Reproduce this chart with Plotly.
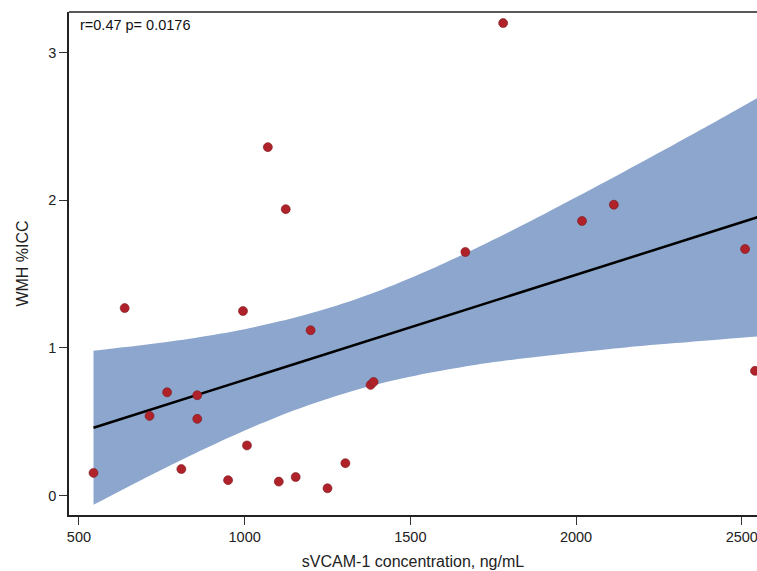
import plotly.graph_objects as go

# Scatter data (sVCAM-1 concentration vs WMH %ICC)
svcam = [544, 638, 713, 766, 809, 857, 857, 950, 995, 1007, 1070, 1103, 1124,
         1154, 1199, 1250, 1304, 1380, 1389, 1666, 1780, 2018, 2114, 2510, 2540]
wmh = [0.154, 1.27, 0.54, 0.70, 0.18, 0.68, 0.52, 0.105, 1.25, 0.34, 2.36, 0.095,
       1.94, 0.126, 1.12, 0.05, 0.22, 0.75, 0.77, 1.65, 3.20, 1.86, 1.97, 1.67, 0.845]

# Fitted regression line endpoints
fit_x = [544, 2560]
fit_y = [0.460, 1.894]

# Confidence band
band_x = [544, 700, 850, 1000, 1150, 1269, 1400, 1550, 1700, 1850, 2000, 2150, 2300, 2450, 2560]
band_upper = [0.982, 1.022, 1.068, 1.127, 1.204, 1.280, 1.382, 1.521, 1.677, 1.844,
              2.020, 2.200, 2.383, 2.569, 2.708]
band_lower = [-0.062, 0.120, 0.286, 0.441, 0.578, 0.670, 0.754, 0.829, 0.887, 0.932,
              0.970, 1.004, 1.033, 1.061, 1.080]

x_ticks = [500, 1000, 1500, 2000, 2500]
y_ticks = [0, 1, 2, 3]
annotation_text = "r=0.47 p= 0.0176"

FONT = "Liberation Sans, Arial, sans-serif"
BAND = "#8CA6CD"

fig = go.Figure()
fig.add_trace(go.Scatter(
    x=band_x, y=band_lower, mode="lines",
    line=dict(width=0, color=BAND, shape="spline", smoothing=0.8),
    hoverinfo="skip", showlegend=False))
fig.add_trace(go.Scatter(
    x=band_x, y=band_upper, mode="lines", fill="tonexty", fillcolor=BAND,
    line=dict(width=0, color=BAND, shape="spline", smoothing=0.8),
    hoverinfo="skip", showlegend=False))
fig.add_trace(go.Scatter(
    x=fit_x, y=fit_y, mode="lines", line=dict(color="#000000", width=2.5),
    showlegend=False))
fig.add_trace(go.Scatter(
    x=svcam, y=wmh, mode="markers",
    marker=dict(size=9, color="#B0222A", line=dict(width=0.6, color="#7A1A1E")),
    showlegend=False))

fig.update_layout(
    width=757, height=571,
    margin=dict(l=69, r=0, t=12, b=56),
    paper_bgcolor="white", plot_bgcolor="white",
    font=dict(family=FONT, size=14, color="#222222"),
    xaxis=dict(range=[470, 2546], tickvals=x_ticks, ticks="outside", ticklen=8,
               tickwidth=1, tickcolor="#333", showline=True, linecolor="#222",
               linewidth=1.5, showgrid=False, zeroline=False,
               tickfont=dict(size=14.5), ticklabeloverflow="allow",
               title=dict(text="sVCAM-1 concentration, ng/mL", font=dict(size=16), standoff=12)),
    yaxis=dict(range=[-0.131, 3.275], tickvals=y_ticks, ticks="outside", ticklen=8,
               tickwidth=1, tickcolor="#333", showline=True, linecolor="#222",
               linewidth=1.5, showgrid=False, zeroline=False,
               tickfont=dict(size=14.5),
               title=dict(text="WMH %ICC", font=dict(size=16), standoff=16)),
    shapes=[dict(type="line", xref="paper", yref="paper", x0=0, x1=1, y0=1, y1=1,
                 line=dict(color="#222", width=1.5))],
    annotations=[dict(text=annotation_text, xref="paper", yref="paper", x=0.013, y=0.995,
                      xanchor="left", yanchor="top", showarrow=False,
                      font=dict(size=14.5, color="#111"))],
)

fig.write_html(
    "out.html",
    config={"displayModeBar": False},
    post_script="document.body.style.margin='0';document.body.style.overflow='hidden';",
)
